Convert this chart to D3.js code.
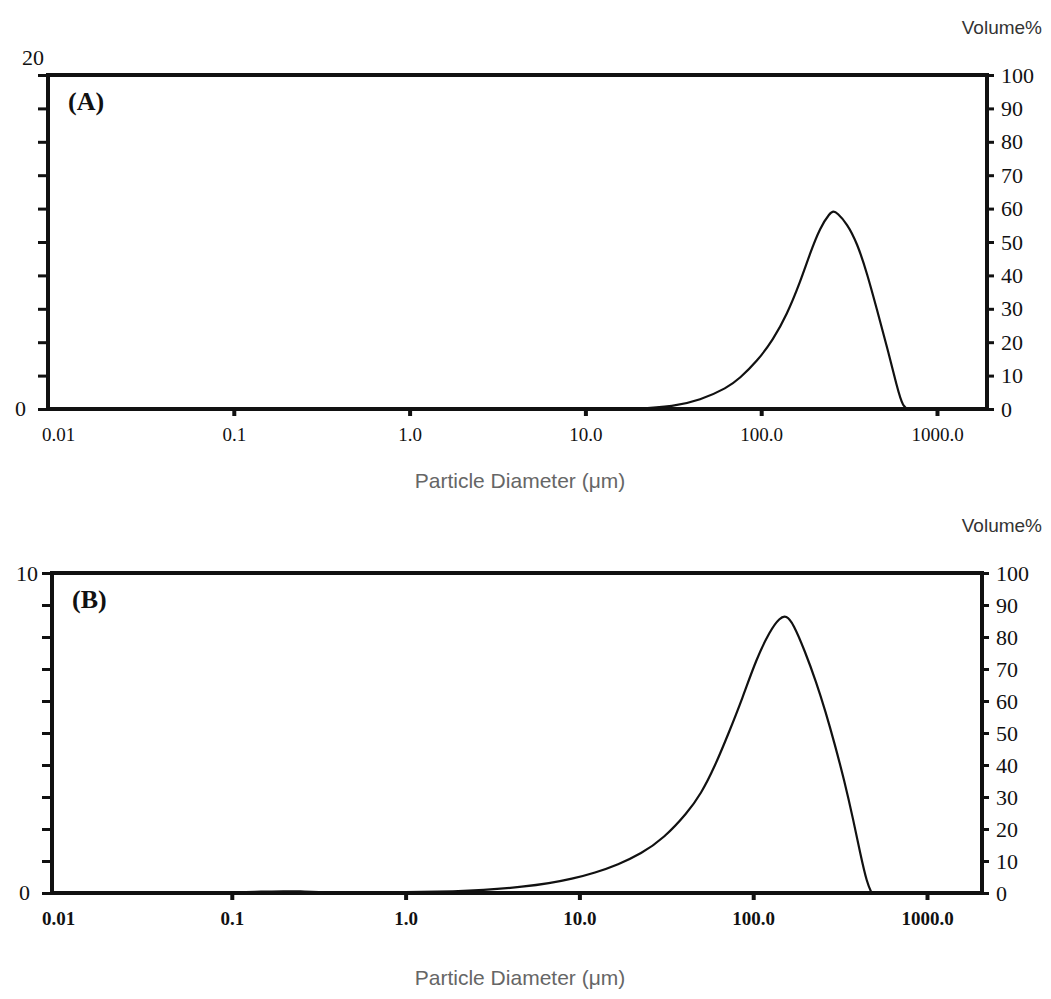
<!DOCTYPE html>
<html>
<head>
<meta charset="utf-8">
<script src="https://cdn.jsdelivr.net/npm/d3@7"></script>
<style>
body { margin: 0; background: #fff; }
</style>
</head>
<body>
<div id="chart"></div>
<script>
// particle size distribution, two panels (A) and (B)
var width = 1051;
var height = 999;

// x ticks (diameter, um)
var diamTicks = [0.01, 0.1, 1, 10, 100, 1000];
var diamLabels = ["0.01", "0.1", "1.0", "10.0", "100.0", "1000.0"];
var volTicks = [0, 10, 20, 30, 40, 50, 60, 70, 80, 90, 100];

// panel A curve
var diamA = [0.01, 0.1, 1, 5, 12, 20, 31.5, 44.9, 64, 75.7, 94.6, 117, 140, 166, 190, 216, 246, 258, 270, 308, 351, 400, 456, 520, 592, 641, 700];
var valA  = [0, 0, 0, 0, 0, 0.02, 0.15, 0.53, 1.26, 1.85, 2.85, 4.15, 5.65, 7.55, 9.35, 10.85, 11.75, 11.85, 11.75, 11.1, 9.94, 8.14, 5.93, 3.71, 1.32, 0.05, 0];

// panel B curve
var diamB = [0.1, 0.15, 0.2, 0.25, 0.3, 0.5, 1, 2, 2.67, 4.9, 6.67, 9.04, 12.3, 16.7, 22.6, 30.7, 41.7, 50.1, 60.1, 72.3, 86.9, 104, 125, 142, 155, 170, 198, 231, 261, 295, 333, 377, 413, 452, 481];
var valB  = [0.02, 0.04, 0.06, 0.05, 0.03, 0.02, 0.03, 0.05, 0.08, 0.2, 0.3, 0.44, 0.63, 0.89, 1.22, 1.72, 2.5, 3.1, 3.95, 5.0, 6.1, 7.3, 8.2, 8.6, 8.68, 8.42, 7.57, 6.58, 5.66, 4.64, 3.55, 2.28, 1.23, 0.3, 0];

var svg = d3.select("#chart")
	.append("svg")
	.attr("width", width)
	.attr("height", height);

function drawPanel(p) {
	var g = svg.append("g");

	var x = d3.scaleLog()
		.domain([0.01, 1000])
		.range(p.xRange);
	var y = d3.scaleLinear()
		.domain([0, p.yMax])
		.range([p.bottom, p.top]);
	var yr = d3.scaleLinear()
		.domain([0, 100])
		.range([p.bottom, p.top]);

	// left axis: minor ticks, labels only at ends
	var leftTicks = d3.range(0, p.yMax + 0.001, p.yMax / 10);
	g.append("g")
		.attr("transform", "translate(" + p.left + ",0)")
		.call(d3.axisLeft(y).tickValues(leftTicks).tickSize(10).tickFormat(function() { return ""; }))
		.call(function(a) {
			a.select(".domain").remove();
			a.selectAll("line").attr("stroke", "#111").attr("stroke-width", 3);
		});

	g.append("text")
		.attr("x", p.left - 22)
		.attr("y", p.bottom)
		.attr("dy", "0.3em")
		.attr("text-anchor", "end")
		.attr("font-family", "Liberation Serif")
		.attr("font-size", 22)
		.attr("fill", "#111")
		.text("0");
	g.append("text")
		.attr("x", p.left - p.maxLabelGap)
		.attr("y", p.top + p.maxLabelShift)
		.attr("dy", "0.35em")
		.attr("text-anchor", "end")
		.attr("font-family", "Liberation Serif")
		.attr("font-size", 22)
		.attr("fill", "#111")
		.text(p.yMax);

	// right axis volume%
	g.append("g")
		.attr("transform", "translate(" + p.right + ",0)")
		.call(d3.axisRight(yr).tickValues(volTicks).tickSize(7).tickPadding(7))
		.call(function(a) {
			a.select(".domain").remove();
			a.selectAll("line").attr("stroke", "#111").attr("stroke-width", 3);
			a.selectAll("text")
				.attr("font-family", "Liberation Serif")
				.attr("font-size", 22)
				.attr("fill", "#111");
		});

	// bottom axis
	g.append("g")
		.attr("transform", "translate(0," + p.bottom + ")")
		.call(d3.axisBottom(x).tickValues(diamTicks).tickSize(7).tickPadding(12)
			.tickFormat(function(d, i) { return diamLabels[i]; }))
		.call(function(a) {
			a.select(".domain").remove();
			a.selectAll("line")
				.attr("stroke", "#111")
				.attr("stroke-width", 4)
				.attr("opacity", function(d) { return d === 0.01 ? 0 : 1; });
			a.selectAll("text")
				.attr("font-family", "Liberation Serif")
				.attr("font-size", 19)
				.attr("font-weight", p.tickBold ? "bold" : "normal")
				.attr("fill", "#111");
		});

	// frame
	g.append("rect")
		.attr("x", p.left)
		.attr("y", p.top)
		.attr("width", p.right - p.left)
		.attr("height", p.bottom - p.top)
		.attr("fill", "none")
		.attr("stroke", "#111")
		.attr("stroke-width", 4);

	// curve
	var pts = p.diam.map(function(d, i) { return [d, p.vals[i]]; });
	var line = d3.line()
		.x(function(d) { return x(d[0]); })
		.y(function(d) { return y(d[1]); })
		.curve(d3.curveBasis);
	g.append("path")
		.datum(pts)
		.attr("d", line)
		.attr("fill", "none")
		.attr("stroke", "#111")
		.attr("stroke-width", 2.2);

	// panel letter
	g.append("text")
		.attr("x", p.left + 20)
		.attr("y", p.top + 35)
		.attr("font-family", "Liberation Serif")
		.attr("font-weight", "bold")
		.attr("font-size", 26)
		.attr("fill", "#111")
		.text(p.name);

	// Volume% title
	g.append("text")
		.attr("x", 1042)
		.attr("y", p.volY)
		.attr("text-anchor", "end")
		.attr("font-family", "Liberation Sans")
		.attr("font-size", 19)
		.attr("fill", "#333")
		.text("Volume%");

	// x title
	g.append("text")
		.attr("x", 520)
		.attr("y", p.xTitleY)
		.attr("text-anchor", "middle")
		.attr("font-family", "Liberation Sans")
		.attr("font-size", 21)
		.attr("fill", "#666")
		.text("Particle Diameter (\u03bcm)");
}

drawPanel({
	name: "(A)", left: 48, right: 987, top: 75, bottom: 409,
	xRange: [58, 937], yMax: 20, maxLabelShift: -18, maxLabelGap: 4,
	diam: diamA, vals: valA, volY: 34, xTitleY: 488, tickBold: false
});

drawPanel({
	name: "(B)", left: 52, right: 982, top: 573, bottom: 893,
	xRange: [58, 927], yMax: 10, maxLabelShift: 0, maxLabelGap: 14,
	diam: diamB, vals: valB, volY: 532, xTitleY: 985, tickBold: true
});
</script>
</body>
</html>
